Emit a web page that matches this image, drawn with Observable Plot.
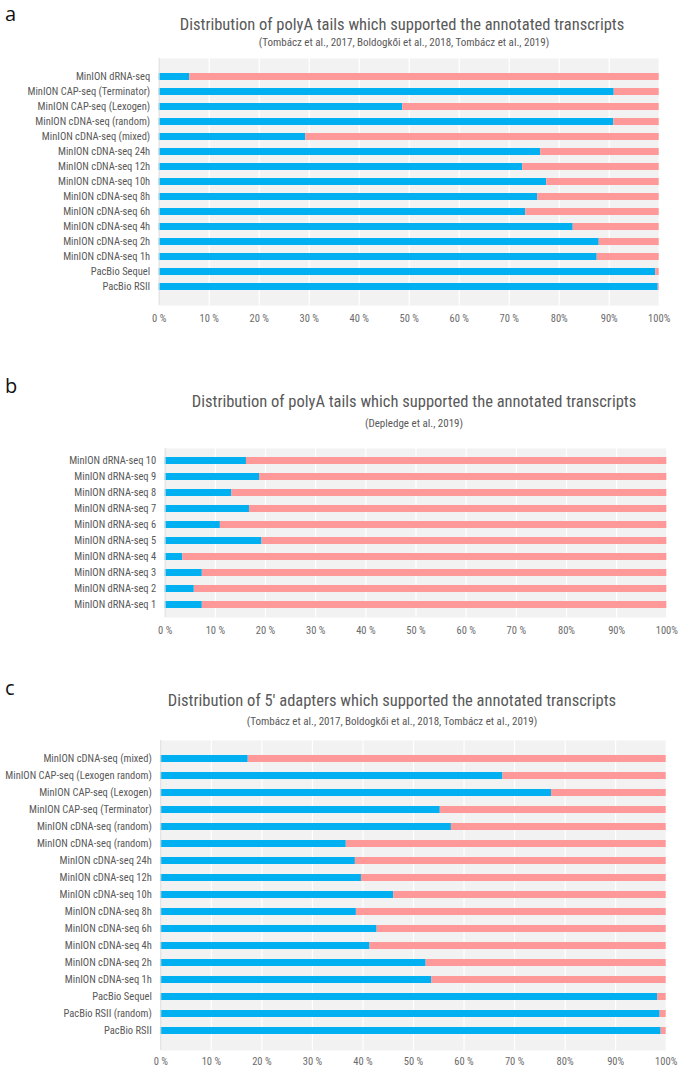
<!DOCTYPE html>
<html><head><meta charset="utf-8">
<script src="https://cdn.jsdelivr.net/npm/d3@7"></script>
<script src="https://cdn.jsdelivr.net/npm/@observablehq/plot@0.6"></script>
<style>
body{margin:0;background:#fff;}
#root{position:relative;width:685px;height:1071px;overflow:hidden;font-family:"Liberation Sans Narrow","Roboto Condensed","Liberation Sans",sans-serif;color:#595959;}
.abs{position:absolute;white-space:nowrap;line-height:1.15;}
.letter{font-family:"Open Sans","Liberation Sans",sans-serif;font-size:20px;line-height:1;color:#111;transform:translateY(-50%);}
.title{font-size:16.5px;transform:translate(-50%,-50%);}
.sub{font-size:11px;transform:translate(-50%,-50%);}
</style></head>
<body><div id="root"></div>
<script>
// ---------- data ----------
const aCategories = ["MinION dRNA-seq","MinION CAP-seq (Terminator)","MinION CAP-seq (Lexogen)","MinION cDNA-seq (random)","MinION cDNA-seq (mixed)","MinION cDNA-seq 24h","MinION cDNA-seq 12h","MinION cDNA-seq 10h","MinION cDNA-seq 8h","MinION cDNA-seq 6h","MinION cDNA-seq 4h","MinION cDNA-seq 2h","MinION cDNA-seq 1h","PacBio Sequel","PacBio RSII"];
const aValues = [6.1, 91.0, 48.7, 90.9, 29.3, 76.3, 72.7, 77.5, 75.7, 73.3, 82.8, 88.0, 87.6, 99.3, 99.8];

const bCategories = ["MinION dRNA-seq 10","MinION dRNA-seq 9","MinION dRNA-seq 8","MinION dRNA-seq 7","MinION dRNA-seq 6","MinION dRNA-seq 5","MinION dRNA-seq 4","MinION dRNA-seq 3","MinION dRNA-seq 2","MinION dRNA-seq 1"];
const bValues = [16.2, 18.8, 13.3, 16.8, 11.0, 19.3, 3.5, 7.4, 5.8, 7.4];

const cCategories = ["MinION cDNA-seq (mixed)","MinION CAP-seq (Lexogen random)","MinION CAP-seq (Lexogen)","MinION CAP-seq (Terminator)","MinION cDNA-seq (random)","MinION cDNA-seq (random) ","MinION cDNA-seq 24h","MinION cDNA-seq 12h","MinION cDNA-seq 10h","MinION cDNA-seq 8h","MinION cDNA-seq 6h","MinION cDNA-seq 4h","MinION cDNA-seq 2h","MinION cDNA-seq 1h","PacBio Sequel","PacBio RSII (random)","PacBio RSII"];
const cValues = [17.3, 67.7, 77.3, 55.3, 57.5, 36.7, 38.5, 39.7, 46.1, 38.7, 42.8, 41.4, 52.5, 53.6, 98.3, 98.8, 99.0];

const tickValues = [0,10,20,30,40,50,60,70,80,90,100];
const tickLabels = ["0 %","10 %","20 %","30 %","40 %","50 %","60 %","70 %","80%","90%","100%"];

const titlePolyA = "Distribution of polyA tails which supported the annotated transcripts";
const title5p = "Distribution of 5' adapters which supported the annotated transcripts";
const subTombacz = "(Tombácz et al., 2017, Boldogkői et al., 2018, Tombácz et al., 2019)";
const subDepledge = "(Depledge et al., 2019)";

// ---------- layout ----------
const BLUE = "#00B0F0", PINK = "#FF9999", BG = "#F2F2F2";
const root = document.getElementById("root");

function addText(cls, text, x, y) {
  const d = document.createElement("div");
  d.className = "abs " + cls;
  d.textContent = text;
  d.style.left = x + "px";
  d.style.top = y + "px";
  root.appendChild(d);
}

function panel(cfg) {
  addText("letter", cfg.letter, 5, cfg.letterY);
  addText("title", cfg.title, cfg.titleX, cfg.titleY);
  addText("sub", cfg.sub, cfg.subX, cfg.subY);
  const long = [];
  cfg.cats.forEach((c, i) => {
    long.push({name: c, kind: "yes", value: cfg.vals[i]});
    long.push({name: c, kind: "no", value: 100 - cfg.vals[i]});
  });
  const svgTop = cfg.bgTop - 4;
  const mb = 24;
  const chart = Plot.plot({
    width: 685,
    height: (cfg.bgBottom - svgTop) + mb,
    marginTop: cfg.bgTop - svgTop,
    marginBottom: mb,
    marginLeft: cfg.x0,
    marginRight: 685 - cfg.x1,
    x: {domain: [0, 100], label: null},
    y: {domain: cfg.cats, padding: 0.56, label: null},
    color: {domain: ["yes", "no"], range: [BLUE, PINK]},
    style: {fontFamily: '"Liberation Sans Narrow","Roboto Condensed","Liberation Sans",sans-serif', fontSize: "10.5px", color: "#595959", background: "transparent"},
    marks: [
      Plot.frame({fill: BG, stroke: null}),
      Plot.gridX(tickValues, {stroke: "white", strokeOpacity: 1, strokeWidth: 1.2}),
      Plot.barX(long, {x: "value", y: "name", fill: "kind"}),
      Plot.ruleX([0], {stroke: "#d9d9d9"}),
      Plot.axisX({ticks: tickValues, tickFormat: (d) => tickLabels[tickValues.indexOf(d)], tickSize: 0, tickPadding: cfg.tickPad, fill: "#6b6b6b", fontSize: 10.5}),
      Plot.axisY({tickSize: 0, tickPadding: 9, tickFormat: d => d.trim(), fill: "#595959"})
    ]
  });
  chart.style.position = "absolute";
  chart.style.left = "0px";
  chart.style.top = svgTop + "px";
  root.appendChild(chart);
}

panel({letter: "a", letterY: 14, title: titlePolyA, titleX: 402, titleY: 25, sub: subTombacz, subX: 404, subY: 43,
  cats: aCategories, vals: aValues, x0: 158.7, x1: 658.7, bgTop: 58, bgBottom: 305, tickPad: 9});
panel({letter: "b", letterY: 386, title: titlePolyA, titleX: 414, titleY: 402, sub: subDepledge, subX: 414, subY: 424,
  cats: bCategories, vals: bValues, x0: 164.7, x1: 666.3, bgTop: 448, bgBottom: 617, tickPad: 9});
panel({letter: "c", letterY: 688, title: title5p, titleX: 392, titleY: 701, sub: subTombacz, subX: 392, subY: 722,
  cats: cCategories, vals: cValues, x0: 160.3, x1: 665.7, bgTop: 740, bgBottom: 1050, tickPad: 7});
</script>
</body></html>
